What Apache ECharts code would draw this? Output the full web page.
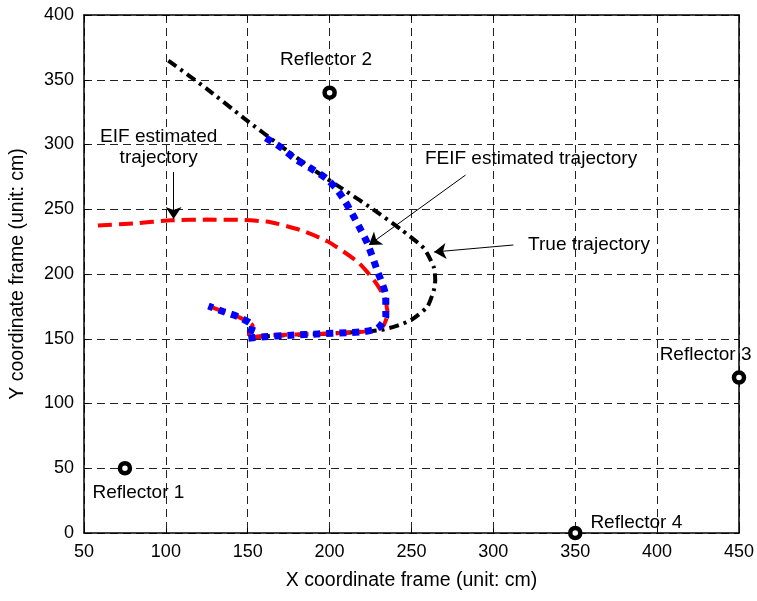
<!DOCTYPE html>
<html>
<head>
<meta charset="utf-8">
<script src="https://cdn.jsdelivr.net/npm/echarts@6/dist/echarts.min.js"></script>
<style>html,body{margin:0;padding:0;background:#fff}#c{width:757px;height:601px}</style>
</head>
<body>
<div id="c"></div>
<script>
// True trajectory
const trueX = [101.5,125,148,170,190.7,210,227,244,257.6,263.7,264.5,263.7,259.7,249.8,240,231.3,215,190,170,150];
const trueY = [364.8,343,320,299,280,264,249.5,234,219.8,205,195,187.7,174.8,164.5,159.5,156.8,155,153.5,152.5,151];
// EIF estimated trajectory
const eifX = [58.5,80,103.5,125,148,164,182,199,217,227,233.3,235.4,232.3,221,192.8,162.4,150,153,144,135,126];
const eifY = [237.5,239,241.5,242,241.7,240,234,225,209.5,195.4,182.5,169.6,159.3,155.5,153.7,152.7,150.4,160,167,171,175.3];
// FEIF estimated trajectory
const feifX = [161,170,178.5,188,197.8,204,209,214,218,223,229,234.3,234.3,229.3,221,211,192.8,176.5,160.3,150,153,144,135,126];
const feifY = [305,298,289.3,282,274,266,257,246,236.5,224,203,182.5,167,158,155.5,154.7,153.7,152.7,151.6,150.4,160,167,171,175.3];
// Reflectors
const reflX = [75,200,450,350];
const reflY = [50,340,120,0];
const reflNames = ['Reflector 1','Reflector 2','Reflector 3','Reflector 4'];
const reflLabelX = [83.2,197.8,429.6,387.3];
const reflLabelY = [30.9,365.3,137.5,7.7];
// Annotations
const noteTexts = ['EIF estimated\ntrajectory','FEIF estimated trajectory','True trajectory'];
const noteX = [95.6,323,358.4];
const noteY = [297.8,289.3,222.4];
const arrowFrom = [[104.7,278.8],[283,276.4],[312.2,222.4]];
const arrowTo = [[104.7,242.5],[224,222.4],[263.8,217]];
const xTicks = {min:50,max:450,interval:50};
const yTicks = {min:0,max:400,interval:50};

const FONT = '"Liberation Sans", Arial, sans-serif';
const pair = (xs, ys) => xs.map((x,i)=>[x, ys[i]]);
const chart = echarts.init(document.getElementById('c'), null, {renderer:'canvas'});
const gridDash = {type:[8,5]};
const baseAxis = {
  axisLine:{show:true,onZero:false,lineStyle:{color:'#000',width:1.5}},
  axisTick:{show:true,inside:true,length:5,lineStyle:{color:'#000'}},
};
const txt = {fontFamily:FONT,fontSize:19,color:'#000',opacity:1,textBorderWidth:0};
chart.setOption({
  animation:false,
  backgroundColor:'#fff',
  grid:{left:82,right:18,top:15,bottom:68},
  xAxis:[
    Object.assign({type:'value',position:'bottom',min:xTicks.min,max:xTicks.max,interval:xTicks.interval,
      name:'X coordinate frame (unit: cm)',nameLocation:'middle',nameGap:38,
      nameTextStyle:{fontFamily:FONT,fontSize:19.5,color:'#000'},
      axisLabel:{fontFamily:FONT,fontSize:18,color:'#000',margin:10},
      splitLine:{show:true,lineStyle:{color:'#222',width:1,type:gridDash.type}}},baseAxis),
    Object.assign({type:'value',position:'top',min:xTicks.min,max:xTicks.max,interval:xTicks.interval,
      axisLabel:{show:false},splitLine:{show:false}},baseAxis)
  ],
  yAxis:[
    Object.assign({type:'value',position:'left',min:yTicks.min,max:yTicks.max,interval:yTicks.interval,
      name:'Y coordinate frame (unit: cm)',nameLocation:'middle',nameGap:56,
      nameTextStyle:{fontFamily:FONT,fontSize:19.5,color:'#000'},
      axisLabel:{fontFamily:FONT,fontSize:18,color:'#000',margin:10},
      splitLine:{show:true,lineStyle:{color:'#222',width:1,type:gridDash.type}}},baseAxis),
    Object.assign({type:'value',position:'right',min:yTicks.min,max:yTicks.max,interval:yTicks.interval,
      axisLabel:{show:false},splitLine:{show:false}},baseAxis)
  ],
  series:[
    {type:'line',name:'True trajectory',data:pair(trueX,trueY),showSymbol:false,smooth:0.2,z:3,
      lineStyle:{color:'#000',width:4,type:[10,5,3,5],cap:'butt'}},
    {type:'line',name:'EIF',data:pair(eifX,eifY),showSymbol:false,smooth:0.2,z:4,
      lineStyle:{color:'#ff0000',width:4,type:[14,7],cap:'butt'}},
    {type:'line',name:'FEIF',data:pair(feifX,feifY),showSymbol:false,smooth:0.2,z:5,
      lineStyle:{color:'#0000ff',width:7,type:[7,6],cap:'butt'}},
    {type:'scatter',name:'Reflectors',data:pair(reflX,reflY),clip:false,z:6,
      symbol:'circle',symbolSize:10,
      itemStyle:{color:'#fff',borderColor:'#000',borderWidth:4.5,opacity:1}},
    {type:'scatter',name:'reflLabels',clip:false,z:7,symbolSize:0,silent:true,
      itemStyle:{opacity:1},
      data:reflNames.map((t,i)=>({value:[reflLabelX[i],reflLabelY[i]],name:t})),
      label:Object.assign({show:true,position:'inside',formatter:p=>p.name},txt)},
    {type:'scatter',name:'notes',clip:false,z:7,symbolSize:0,silent:true,
      itemStyle:{opacity:1},
      data:noteTexts.map((t,i)=>({value:[noteX[i],noteY[i]],name:t})),
      label:Object.assign({show:true,position:'inside',formatter:p=>p.name,lineHeight:21,align:'center'},txt)},
    {type:'lines',coordinateSystem:'cartesian2d',z:8,silent:true,
      symbol:['none','arrow'],symbolSize:[8,12],
      lineStyle:{color:'#000',width:1,opacity:1,curveness:0},
      data:arrowFrom.map((f,i)=>({coords:[f,arrowTo[i]]}))}
  ]
});
</script>
</body>
</html>
